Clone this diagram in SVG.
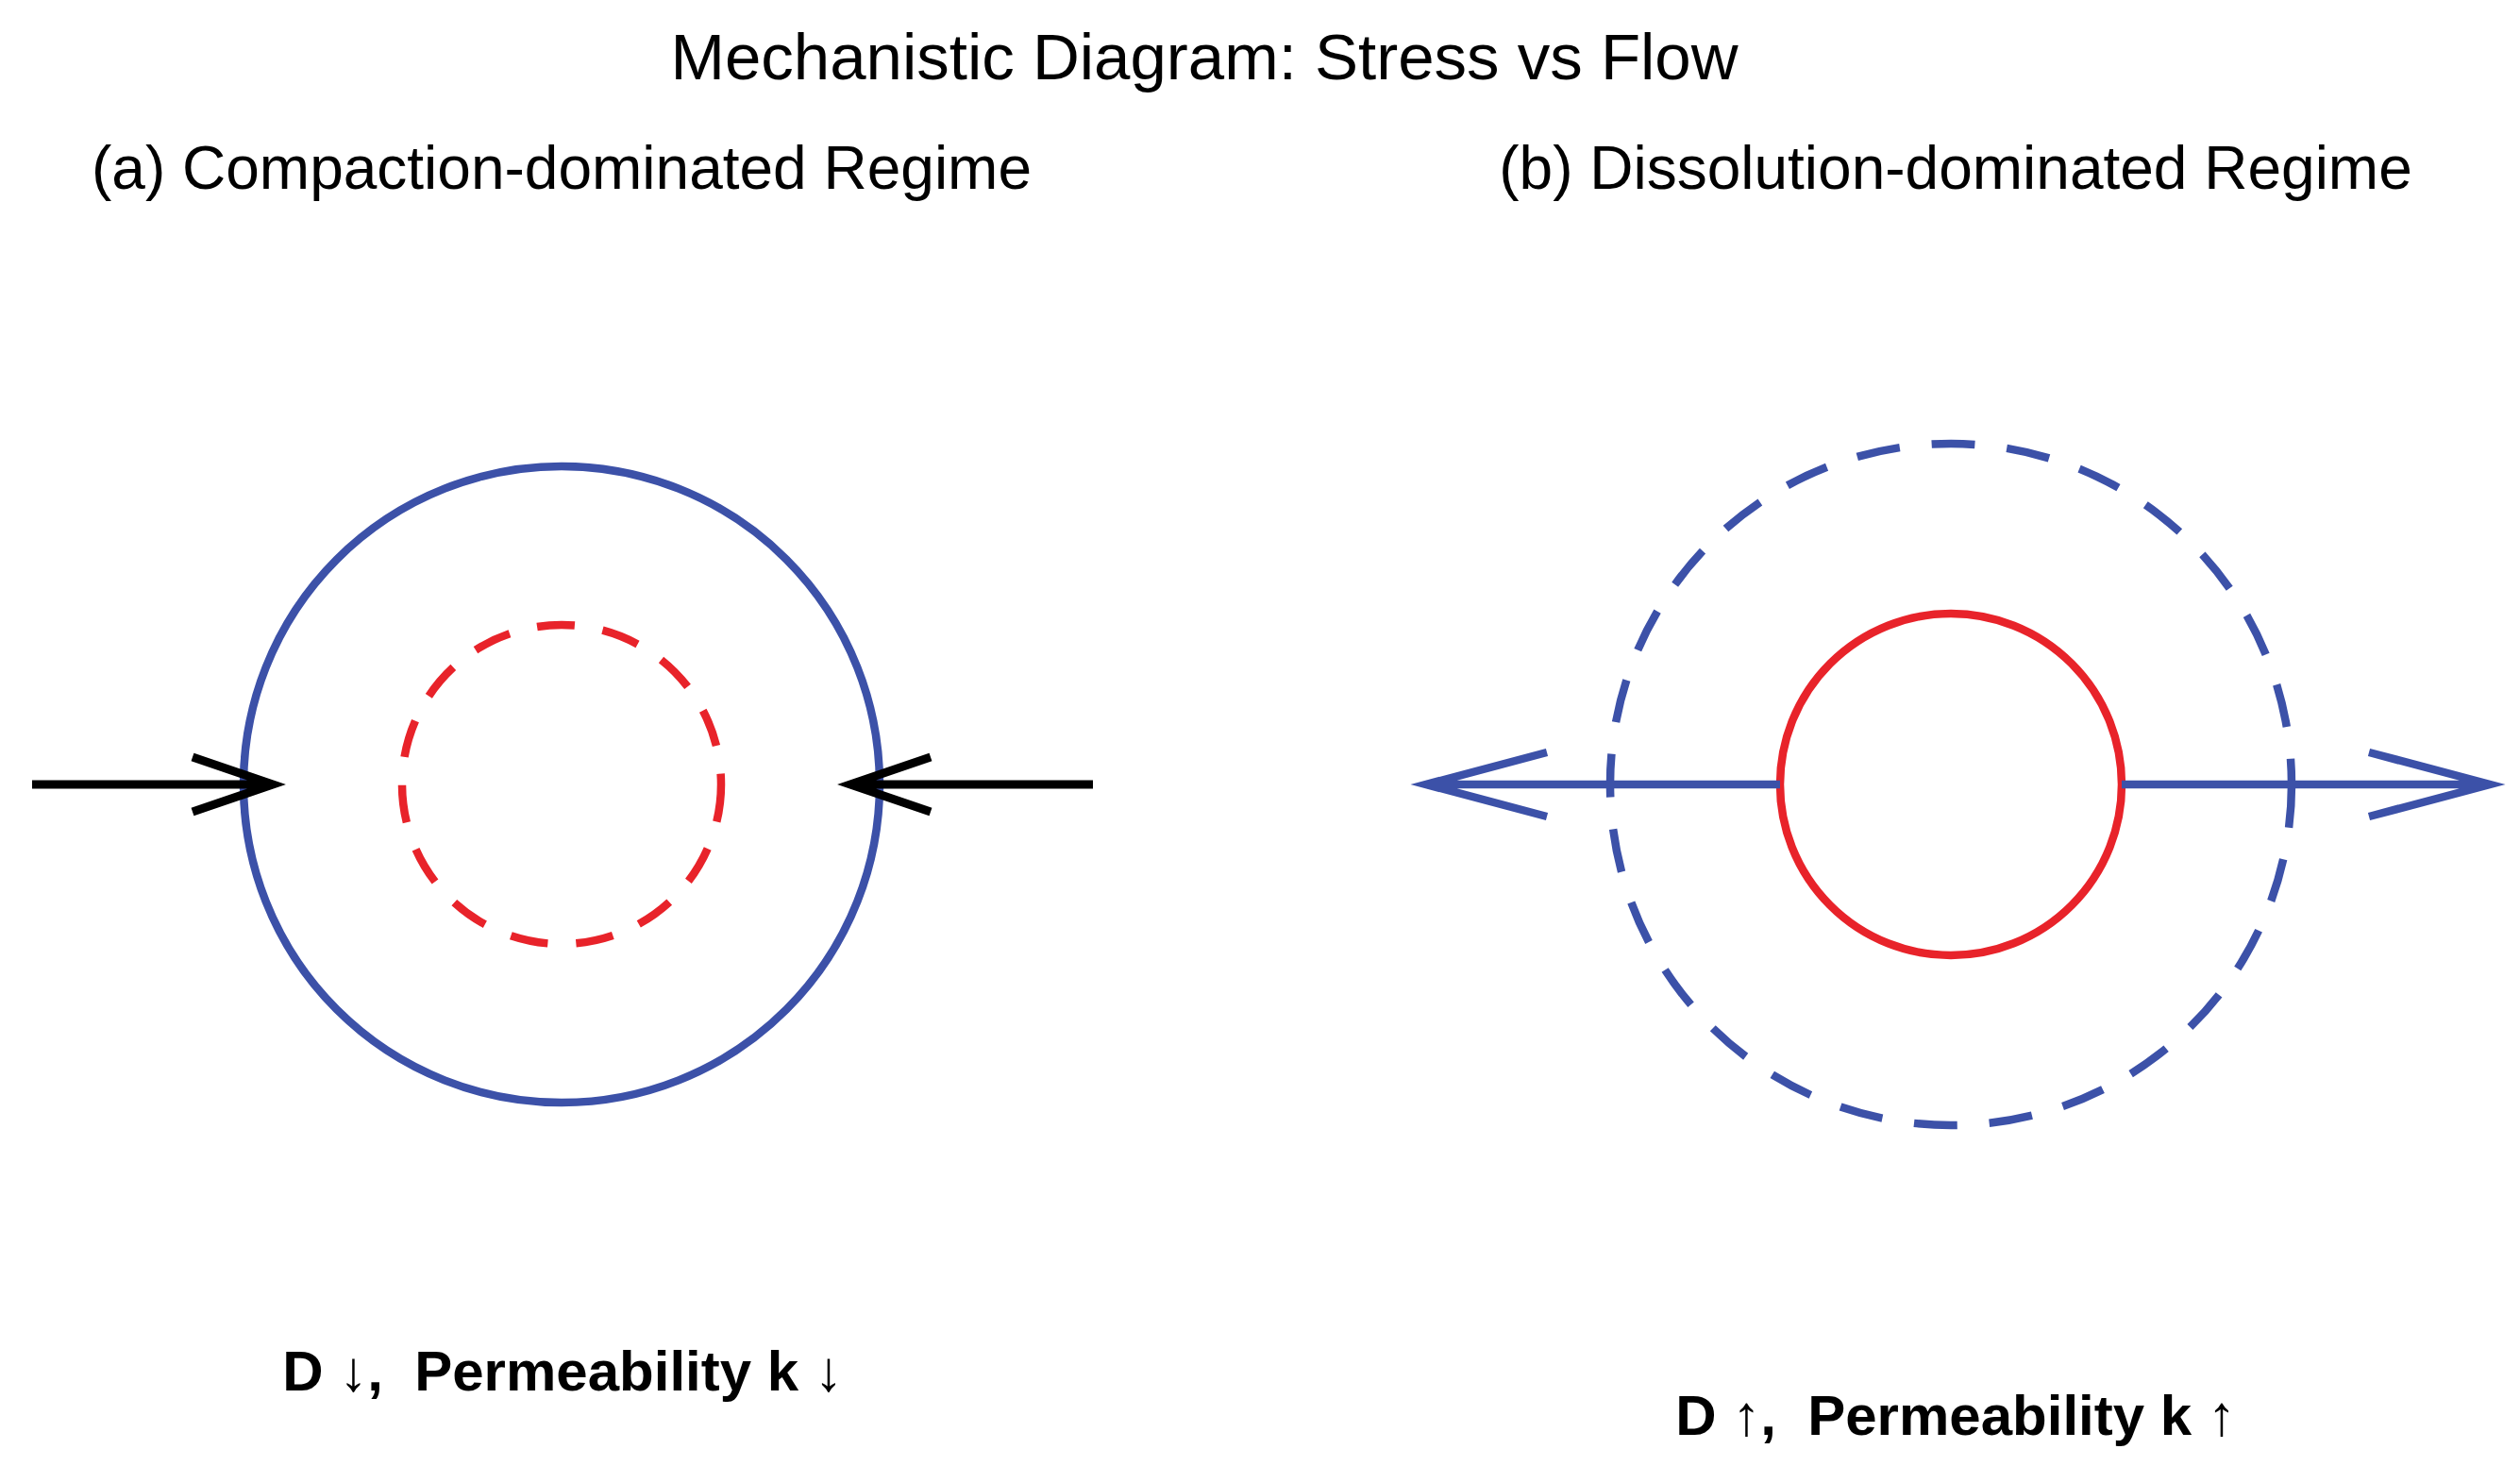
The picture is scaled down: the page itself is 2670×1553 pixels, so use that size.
<svg xmlns="http://www.w3.org/2000/svg" width="2670" height="1553" viewBox="0 0 2670 1553">
<style>
text{font-family:"Liberation Sans",Arial,sans-serif;fill:#000}
.t{font-size:69px}
.s{font-size:64px}
.b{font-size:60px;font-weight:bold;white-space:pre}
.blue{stroke:#3c51a8;fill:none;stroke-width:8.5}
.red{stroke:#e8232a;fill:none;stroke-width:8.5}
.blk{stroke:#000;fill:none;stroke-width:9}
</style>
<rect width="2670" height="1553" fill="#fff"/>
<text class="t" x="1276" y="84" text-anchor="middle">Mechanistic Diagram: Stress vs Flow</text>
<text class="s" x="595" y="200" text-anchor="middle">(a) Compaction-dominated Regime</text>
<text class="s" x="2072" y="200" text-anchor="middle">(b) Dissolution-dominated Regime</text>
<g id="a-outer"><circle class="blue" cx="595" cy="831" r="337"/></g>
<g id="a-inner"><circle class="red" cx="595" cy="831" r="169" stroke-dasharray="40 30"/></g>
<g id="b-outer"><circle class="blue" cx="2067" cy="831" r="361" stroke-dasharray="46 34"/></g>
<g id="b-inner"><circle class="red" cx="2067" cy="831" r="181"/></g>
<g id="connectors">
<path class="blk" d="M34 831H289M204 802L289 831L204 860"/>
<path class="blk" d="M1158 831H901M986 802L901 831L986 860"/>
<path class="blue" d="M1511 831H1886M1639 797L1511 831L1639 865"/>
<path class="blue" d="M2248 831H2638M2510 797L2638 831L2510 865"/>
</g>
<text class="b" x="596" y="1473" text-anchor="middle" xml:space="preserve">D ↓,  Permeability k ↓</text>
<text class="b" x="2072" y="1520" text-anchor="middle" xml:space="preserve">D ↑,  Permeability k ↑</text>
</svg>
